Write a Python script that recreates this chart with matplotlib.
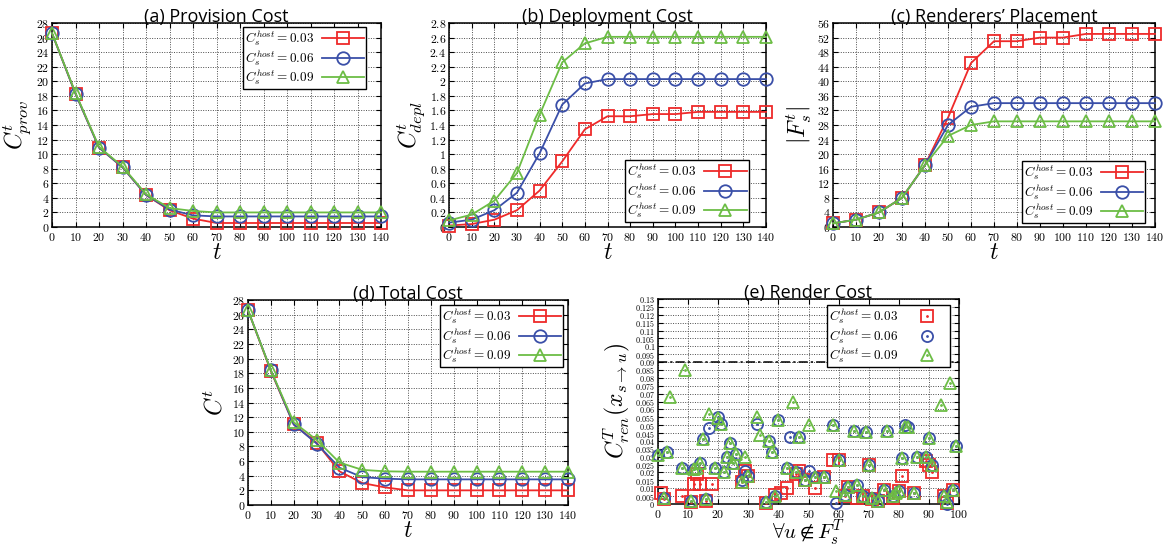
import numpy as np
import matplotlib
matplotlib.use("Agg")
import matplotlib.pyplot as plt
from matplotlib.ticker import FuncFormatter

plt.rcParams['mathtext.fontset'] = 'cm'
plt.rcParams['font.family'] = ['Open Sans', 'DejaVu Sans']

t = np.arange(0, 141, 10)
labels = [r'$C_s^{host} = 0.03$', r'$C_s^{host} = 0.06$', r'$C_s^{host} = 0.09$']
colors = ['#ee2a2a', '#3a4fa8', '#6cbd45']
markers = ['s', 'o', '^']

prov_03 = [26.6, 18.3, 10.9, 8.2, 4.4, 2.3, 1.15, 0.55, 0.55, 0.55, 0.55, 0.55, 0.55, 0.55, 0.55]
prov_06 = [26.6, 18.3, 10.9, 8.2, 4.4, 2.4, 1.6, 1.45, 1.45, 1.45, 1.45, 1.45, 1.45, 1.45, 1.45]
prov_09 = [26.6, 18.4, 11.0, 8.3, 4.5, 2.6, 2.2, 2.0, 2.0, 2.0, 2.0, 2.0, 2.0, 2.0, 2.0]

depl_03 = [0.02, 0.04, 0.1, 0.23, 0.5, 0.9, 1.34, 1.52, 1.52, 1.55, 1.55, 1.58, 1.58, 1.58, 1.58]
depl_06 = [0.06, 0.1, 0.23, 0.47, 1.01, 1.68, 1.97, 2.03, 2.03, 2.03, 2.03, 2.03, 2.03, 2.03, 2.03]
depl_09 = [0.09, 0.17, 0.36, 0.74, 1.54, 2.26, 2.52, 2.61, 2.61, 2.61, 2.61, 2.61, 2.61, 2.61, 2.61]

place_03 = [1, 2, 4, 8, 17, 30, 45, 51, 51, 52, 52, 53, 53, 53, 53]
place_06 = [1, 2, 4, 8, 17, 28, 33, 34, 34, 34, 34, 34, 34, 34, 34]
place_09 = [1, 2, 4, 8, 17, 25, 28, 29, 29, 29, 29, 29, 29, 29, 29]

total_03 = [26.6, 18.3, 11.0, 8.5, 4.6, 3.0, 2.4, 2.0, 2.0, 2.0, 2.0, 2.0, 2.0, 2.0, 2.0]
total_06 = [26.6, 18.4, 11.0, 8.4, 5.1, 3.8, 3.6, 3.5, 3.5, 3.5, 3.5, 3.5, 3.5, 3.5, 3.5]
total_09 = [26.6, 18.4, 11.3, 8.9, 5.8, 4.8, 4.6, 4.55, 4.55, 4.55, 4.55, 4.55, 4.55, 4.55, 4.55]

# render cost per user (panel e)
ren_x_03 = [1, 2, 8, 11, 12, 13, 14, 16, 18, 28, 29, 30, 36, 39, 41, 43, 46, 47, 49, 52, 55, 58, 60,
            62, 63, 66, 68, 70, 71, 73, 75, 78, 80, 81, 85, 89, 90, 91, 95, 96, 98]
ren_y_03 = [0.007, 0.003, 0.005, 0.001, 0.0125, 0.019, 0.0125, 0.002, 0.0125, 0.014, 0.021, 0.018,
            0.0005, 0.006, 0.007, 0.010, 0.019, 0.021, 0.015, 0.010, 0.017, 0.028, 0.028,
            0.005, 0.011, 0.004, 0.005, 0.025, 0.003, 0.002, 0.009, 0.004, 0.008, 0.0175, 0.007,
            0.027, 0.025, 0.020, 0.005, 0.0005, 0.009]
ren_x_06 = [0, 2, 3, 8, 11, 12, 14, 15, 16, 17, 19, 20, 21, 22, 23, 24, 25, 26, 28, 29, 30, 33, 36,
            37, 38, 39, 40, 43, 44, 46, 47, 49, 50, 52, 55, 58, 59, 60, 62, 63, 65, 66, 68, 69, 70,
            71, 73, 75, 76, 78, 80, 81, 82, 83, 85, 86, 89, 90, 91, 95, 96, 98, 99]
ren_y_06 = [0.031, 0.0035, 0.033, 0.023, 0.002, 0.022, 0.026, 0.041, 0.003, 0.048, 0.023, 0.055,
            0.0505, 0.020, 0.030, 0.039, 0.026, 0.032, 0.015, 0.021, 0.018, 0.0505, 0.001,
            0.040, 0.033, 0.005, 0.053, 0.023, 0.0425, 0.020, 0.0425, 0.015, 0.021, 0.017, 0.017,
            0.050, 0.0005, 0.028, 0.006, 0.011, 0.046, 0.012, 0.005, 0.0455, 0.025,
            0.0035, 0.002, 0.009, 0.046, 0.005, 0.008, 0.029, 0.050, 0.049, 0.007, 0.030, 0.030,
            0.042, 0.025, 0.005, 0.0, 0.009, 0.037]
ren_x_09 = [0, 2, 3, 4, 8, 9, 11, 12, 13, 14, 15, 16, 17, 19, 20, 21, 22, 23, 24, 25, 26, 28, 29,
            30, 33, 34, 36, 37, 38, 39, 40, 43, 45, 46, 47, 49, 50, 52, 55, 58, 59, 60, 62, 63,
            65, 66, 68, 69, 70, 71, 73, 75, 76, 78, 79, 80, 81, 82, 83, 85, 86, 89, 90, 91, 94,
            95, 96, 97, 98, 99]
ren_y_09 = [0.031, 0.0035, 0.033, 0.068, 0.023, 0.085, 0.002, 0.022, 0.023, 0.026, 0.041, 0.003,
            0.057, 0.023, 0.0545, 0.0505, 0.020, 0.030, 0.039, 0.026, 0.032, 0.014, 0.030,
            0.018, 0.055, 0.0435, 0.001, 0.040, 0.033, 0.005, 0.053, 0.023, 0.065, 0.020,
            0.0425, 0.015, 0.050, 0.017, 0.017, 0.050, 0.008, 0.028, 0.006, 0.011,
            0.046, 0.012, 0.005, 0.0455, 0.025, 0.0035, 0.002, 0.009, 0.046, 0.005, 0.007,
            0.008, 0.029, 0.049, 0.049, 0.007, 0.030, 0.030, 0.042, 0.025, 0.063,
            0.005, 0.001, 0.077, 0.009, 0.037]
threshold = 0.09

W, H = 1164, 549
fig = plt.figure(figsize=(W / 100, H / 100), dpi=100)


def box(l, t_, r, b):
    return fig.add_axes([l / W, 1 - b / H, (r - l) / W, (b - t_) / H])


math_fmt = FuncFormatter(lambda v, p: '$%g$' % round(v, 4))


def style(ax, title, ylabel, xlabel, xmax, ymax, ystep, ylsize=8.5):
    ax.set_xlim(0, xmax)
    ax.set_ylim(0, ymax)
    ax.set_xticks(np.arange(0, xmax + 0.1, 10))
    ax.set_yticks(np.arange(0, ymax + ystep / 2, ystep))
    ax.xaxis.set_major_formatter(math_fmt)
    ax.yaxis.set_major_formatter(math_fmt)
    ax.tick_params(direction='in', top=True, right=True, length=3.5, width=0.8,
                   labelsize=8.5, pad=3)
    ax.tick_params(axis='y', labelsize=ylsize, pad=2)
    ax.grid(True, color='0.3', linestyle=(0, (1, 1.5)), linewidth=0.7)
    for s in ax.spines.values():
        s.set_linewidth(1.1)
    ax.set_title(title, fontsize=13, pad=1)
    ax.set_ylabel(ylabel, fontsize=17, labelpad=2)
    ax.set_xlabel(xlabel, fontsize=17, labelpad=-2)


def add_legend(ax, loc, anchor, handles=None):
    kw = dict(loc=loc, bbox_to_anchor=anchor, markerfirst=False, fancybox=False,
              edgecolor='black', framealpha=1, fontsize=9.5, handlelength=3.2,
              labelspacing=0.0, borderpad=0.15, handletextpad=0.6, borderaxespad=0)
    if handles is None:
        leg = ax.legend(**kw)
    else:
        leg = ax.legend(handles, labels, **kw)
    leg.get_frame().set_linewidth(1.0)


def lines(ax, series, loc, anchor):
    for ys, c, m, lab in zip(series, colors, markers, labels):
        ax.plot(t, ys, color=c, marker=m, markersize=9, markerfacecolor='none',
                markeredgewidth=1.3, linewidth=1.3, label=lab, clip_on=False, zorder=3)
    add_legend(ax, loc, anchor)


ax = box(52, 23, 381, 227)
lines(ax, [prov_03, prov_06, prov_09], 'upper right', (0.955, 0.98))
style(ax, '(a) Provision Cost', r'$C^t_{prov}$', r'$t$', 140, 28, 2)

ax = box(449, 23, 766, 227)
lines(ax, [depl_03, depl_06, depl_09], 'lower right', (0.945, 0.025))
style(ax, '(b) Deployment Cost', r'$C^t_{depl}$', r'$t$', 140, 2.8, 0.2)

ax = box(833, 23, 1155, 227)
lines(ax, [place_03, place_06, place_09], 'lower right', (0.97, 0.02))
style(ax, '(c) Renderers\u2019 Placement', r'$|F^t_s|$', r'$t$', 140, 56, 4)

ax = box(248, 300, 568, 505)
lines(ax, [total_03, total_06, total_09], 'upper right', (0.985, 0.976))
style(ax, '(d) Total Cost', r'$C^t$', r'$t$', 140, 28, 2)

ax = box(658, 299, 959, 504)
handles = []
for xs, ys, c, m in zip([ren_x_03, ren_x_06, ren_x_09], [ren_y_03, ren_y_06, ren_y_09],
                        colors, markers):
    h1, = ax.plot(xs, ys, linestyle='none', color=c, marker=m, markersize=8,
                  markerfacecolor='none', markeredgewidth=1.3, clip_on=False, zorder=3)
    h2, = ax.plot(xs, ys, linestyle='none', color=c, marker='.', markersize=2,
                  clip_on=False, zorder=3)
    handles.append((h1, h2))
ax.axhline(threshold, color='black', linewidth=1.1, dashes=(6, 2, 1.5, 2), zorder=2)
add_legend(ax, 'upper right', (0.97, 0.972), handles)
style(ax, '(e) Render Cost', r'$C^T_{ren}(x_{s\rightarrow u})$', r'$\forall u \notin F_s^T$',
      100, 0.13, 0.005, ylsize=5.8)
ax.xaxis.label.set_size(15)

fig.savefig('out.png', dpi=100)
